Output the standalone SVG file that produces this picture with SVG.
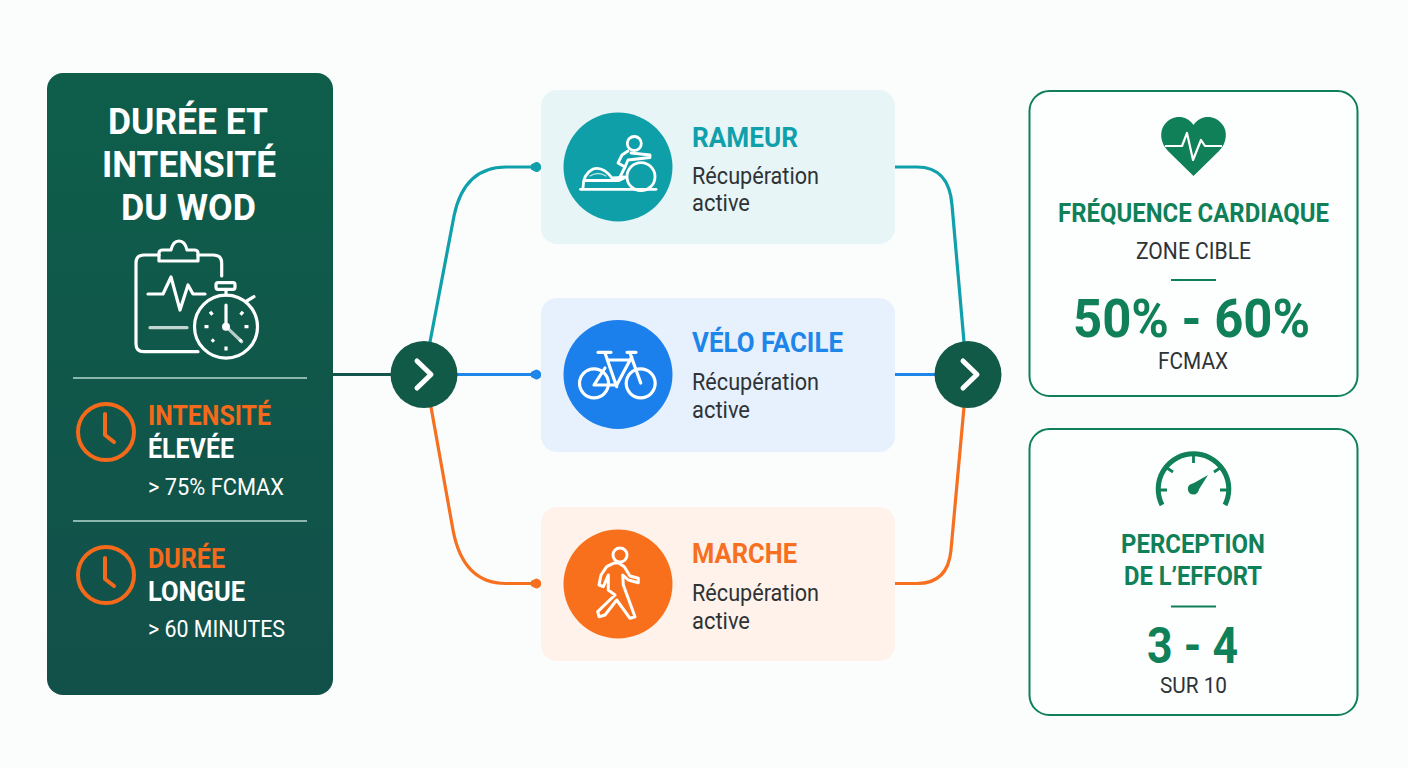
<svg xmlns="http://www.w3.org/2000/svg" width="1408" height="768" viewBox="0 0 1408 768">
<style>
text{font-family:Roboto,"Liberation Sans",sans-serif}
.b{font-weight:700}
.m{text-anchor:middle}
.w{fill:#fff}
.o{fill:#f56a1a}
.g{fill:#0f8058}
.d{fill:#2e3336}
.ic{fill:none;stroke:#fff;stroke-linecap:round;stroke-linejoin:round}
.ck{fill:none;stroke:#f56a1a;stroke-width:4;stroke-linecap:round;stroke-linejoin:round}
.cn{fill:none;stroke-width:3.2;stroke-linecap:round}
.gl{fill:none;stroke:#0f8058;stroke-linecap:butt}
</style>
<defs>
<linearGradient id="pan" x1="0" y1="0" x2="0" y2="1"><stop offset="0" stop-color="#0e5e4a"/><stop offset="1" stop-color="#12504a"/></linearGradient>
<marker id="dt" viewBox="0 0 10 10" refX="2" refY="5" markerWidth="3.200" markerHeight="3.200" orient="auto"><path d="M0 2.500L5 0A5 5 0 0 1 5 10L0 7.500Z" fill="context-stroke"/></marker>
</defs>
<rect width="1408" height="768" fill="#fbfcfc"/>
<g id="connectors">
<path class="cn" stroke="#14544a" d="M333 374.500H392"/>
<path class="cn" stroke="#10a0ab" d="M430 342L454 216Q464 167 506 167H533" marker-end="url(#dt)"/>
<path class="cn" stroke="#1e86e8" d="M456 374.500H533" marker-end="url(#dt)"/>
<path class="cn" stroke="#f6701f" d="M431 407L453 530Q463 583.500 506 583.500H533" marker-end="url(#dt)"/>
<path class="cn" stroke="#10a0ab" d="M895 167H917Q949 167 952 205L964 342"/>
<path class="cn" stroke="#1e86e8" d="M895 374.500H936"/>
<path class="cn" stroke="#f6701f" d="M964 407L951 550Q948 583.500 917 583.500H895"/>
</g>
<g id="panel">
<rect x="47" y="73" width="286" height="622" rx="16" fill="url(#pan)"/>
<text class="b m w" x="188" y="134" font-size="37" textLength="160" lengthAdjust="spacingAndGlyphs">DURÉE ET</text>
<text class="b m w" x="189" y="177" font-size="37" textLength="174" lengthAdjust="spacingAndGlyphs">INTENSITÉ</text>
<text class="b m w" x="188.500" y="220" font-size="37" textLength="135" lengthAdjust="spacingAndGlyphs">DU WOD</text>
<g class="ic" stroke-width="3.200">
<path d="M221.700 276V263Q221.700 255 213 255H198M159 255H144Q136 255 136 263V344Q136 351.700 144 351.700H198"/>
<path d="M159 261V253Q159 250 163 250H171Q173 241 179 241Q185 241 187 250H194Q198 250 198 253V261H159Z"/>
<path d="M148 294H163L171 277L180 310L188 285L193 294H205"/>
<path d="M150 327.700H187" opacity=".75"/>
<circle cx="226" cy="326.700" r="31.500"/>
<rect x="216" y="282.700" width="19" height="6.600" rx="2"/>
<path d="M226 289.300V295"/>
<path d="M246.700 301L254 296.700"/>
<path d="M226 305V326.700"/>
<path d="M226 326.700L241.700 341.700" opacity=".7"/>
<path d="M210 311.700L212.500 314.800M243 311.700L240.500 314.800M204.500 326.700H208.500M244.500 326.700H248.500M211.700 341.700L214 339.500M241.500 341.700L239.500 339.500M226 346.500V350.500" stroke-linecap="butt"/>
</g>
<circle cx="226" cy="326.700" r="4" fill="#fff"/>
<path d="M73 378H307M73 521H307" stroke="#b5d8cf" stroke-width="1.300"/>
<g id="item-intensite">
<circle class="ck" cx="106" cy="432" r="28"/>
<path class="ck" d="M105 414V435L114 442"/>
<text class="b o" x="148" y="425" font-size="28" textLength="123" lengthAdjust="spacingAndGlyphs">INTENSITÉ</text>
<text class="b w" x="148" y="458" font-size="28" textLength="86" lengthAdjust="spacingAndGlyphs">ÉLEVÉE</text>
<text class="w" x="148" y="495" font-size="23" textLength="136" lengthAdjust="spacingAndGlyphs">&gt; 75% FCMAX</text>
</g>
<g id="item-duree">
<circle class="ck" cx="106" cy="575" r="28"/>
<path class="ck" d="M105 558V579L114 586"/>
<text class="b o" x="148" y="568" font-size="28" textLength="77" lengthAdjust="spacingAndGlyphs">DURÉE</text>
<text class="b w" x="148" y="601" font-size="28" textLength="97" lengthAdjust="spacingAndGlyphs">LONGUE</text>
<text class="w" x="148" y="637" font-size="23" textLength="137" lengthAdjust="spacingAndGlyphs">&gt; 60 MINUTES</text>
</g>
</g>
<g id="hub-left"><circle cx="424" cy="374.500" r="33.500" fill="#115a48"/><path d="M417 361L431 374.500L417 388" fill="none" stroke="#fff" stroke-width="5" stroke-linecap="round" stroke-linejoin="round"/></g>
<g id="hub-right"><circle cx="968" cy="374.500" r="33.500" fill="#115a48"/><path d="M963 361L977 374.500L963 388" fill="none" stroke="#fff" stroke-width="5" stroke-linecap="round" stroke-linejoin="round"/></g>
<g id="rameur">
<rect x="541" y="90" width="354" height="154" rx="16" fill="#e8f5f7"/>
<circle cx="618" cy="167" r="54.500" fill="#0f9fa8"/>
<g class="ic" stroke-width="2.800">
<path d="M580.500 189.300H656"/>
<circle cx="634.300" cy="143.500" r="7"/>
<circle cx="641" cy="176.700" r="14"/>
<path d="M583 188Q583 174 593 169Q603 166 612 178Q618 178 624 177"/>
<path d="M584 180.500H619L626 177"/>
<path d="M628 151L622 155L618 163L625 167L628 160L650 157.500L650 155L631 153"/>
<path d="M625 167L620 177"/>
<path d="M590 176Q598 171 606 176" stroke-width="1.400" opacity=".7"/>
</g>
<text class="b" x="692" y="147" font-size="28" fill="#10a0ab" textLength="106" lengthAdjust="spacingAndGlyphs">RAMEUR</text>
<text class="d" x="692" y="184" font-size="24" textLength="127" lengthAdjust="spacingAndGlyphs">Récupération</text>
<text class="d" x="692" y="211" font-size="24" textLength="58" lengthAdjust="spacingAndGlyphs">active</text>
</g>
<g id="velo">
<rect x="541" y="298" width="354" height="154" rx="16" fill="#e6f1fd"/>
<circle cx="618" cy="374.500" r="54.500" fill="#1b80ec"/>
<g class="ic" stroke-width="3.200">
<circle cx="594" cy="383.300" r="14.500"/>
<circle cx="640.700" cy="383.300" r="14.500"/>
<path d="M598 352.300H611M627 352.300H636M605 353L616.700 386.700M608 360H632M631.700 357L616.700 385H594L605 368M630 353L640.700 383"/>
</g>
<text class="b" x="692" y="352" font-size="28" fill="#1e86e8" textLength="151" lengthAdjust="spacingAndGlyphs">VÉLO FACILE</text>
<text class="d" x="692" y="390" font-size="24" textLength="127" lengthAdjust="spacingAndGlyphs">Récupération</text>
<text class="d" x="692" y="418" font-size="24" textLength="58" lengthAdjust="spacingAndGlyphs">active</text>
</g>
<g id="marche">
<rect x="541" y="507" width="354" height="154" rx="16" fill="#fef2ea"/>
<circle cx="618" cy="584" r="54.500" fill="#f9701c"/>
<g class="ic" stroke-width="3">
<circle cx="620" cy="555" r="7"/>
<path d="M613.300 563.300L606.700 566.700L601 575L599 585L603.300 586.700L608.300 575L608.300 590L615 595L597.700 611.700L599 616.700L605 615L616.700 600L630 618.300L635 616.700L623.300 585L622.700 575L628.300 580L638.300 582.700L638.300 578.300L630 576L624.300 566.700L618.300 562.700Z"/>
</g>
<text class="b" x="692" y="563" font-size="28" fill="#f6701f" textLength="105" lengthAdjust="spacingAndGlyphs">MARCHE</text>
<text class="d" x="692" y="601" font-size="24" textLength="127" lengthAdjust="spacingAndGlyphs">Récupération</text>
<text class="d" x="692" y="629" font-size="24" textLength="58" lengthAdjust="spacingAndGlyphs">active</text>
</g>
<g id="frequence">
<rect x="1029.500" y="91" width="328" height="305" rx="20" fill="#fdfefe" stroke="#0f8058" stroke-width="2"/>
<path d="M1193.500 176L1168 151C1160 143 1159 131 1165 124C1172 115 1186 114 1193.500 125C1201 114 1215 115 1222 124C1228 131 1227 143 1219 151Z" fill="#0f8058"/>
<path d="M1165 146H1182L1187 133L1193 160L1201 140L1205 146H1222" fill="none" stroke="#fff" stroke-width="2.200" stroke-linejoin="round"/>
<text class="b m g" x="1193.500" y="222" font-size="26" textLength="271" lengthAdjust="spacingAndGlyphs">FRÉQUENCE CARDIAQUE</text>
<text class="m d" x="1193.500" y="259" font-size="23" textLength="115" lengthAdjust="spacingAndGlyphs">ZONE CIBLE</text>
<path class="gl" stroke-width="2.200" d="M1171 280H1216"/>
<text class="b m g" x="1191.500" y="337" font-size="53" textLength="237" lengthAdjust="spacingAndGlyphs">50% - 60%</text>
<text class="m d" x="1193" y="369" font-size="23" textLength="70" lengthAdjust="spacingAndGlyphs">FCMAX</text>
</g>
<g id="perception">
<rect x="1029.500" y="429" width="328" height="286" rx="20" fill="#fdfefe" stroke="#0f8058" stroke-width="2"/>
<path class="gl" stroke-width="5" d="M1162 505A35.300 35.300 0 1 1 1225 505"/>
<path class="gl" stroke-width="2.800" d="M1193.500 455V463M1167 468L1173 472M1220 468L1214 472M1160 490H1167M1220 490H1227"/>
<circle cx="1193.300" cy="489" r="5.500" fill="#0f8058"/>
<path d="M1189.500 485.500L1208 475L1197 492.500Z" fill="#0f8058"/>
<text class="b m g" x="1193" y="553" font-size="26" textLength="144" lengthAdjust="spacingAndGlyphs">PERCEPTION</text>
<text class="b m g" x="1193" y="585" font-size="26" textLength="138" lengthAdjust="spacingAndGlyphs">DE L’EFFORT</text>
<path class="gl" stroke-width="2.200" d="M1171 606.500H1216"/>
<text class="b m g" x="1192.500" y="663" font-size="50" textLength="91" lengthAdjust="spacingAndGlyphs">3 - 4</text>
<text class="m d" x="1193.500" y="693" font-size="21.500" textLength="67" lengthAdjust="spacingAndGlyphs">SUR 10</text>
</g>
</svg>
